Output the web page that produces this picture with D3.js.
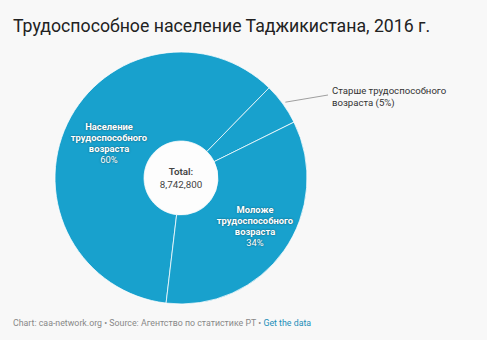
<!DOCTYPE html>
<html><head><meta charset="utf-8">
<script src="https://cdn.jsdelivr.net/npm/d3@7"></script>
<style>
html,body{margin:0;padding:0;background:#f8f8f8;}
svg{display:block;font-family:Roboto,"Noto Sans",sans-serif;}
</style></head><body>
<svg id="c" width="487" height="340"></svg>
<script>
const categories = ["Население трудоспособного возраста", "Старше трудоспособного возраста", "Моложе трудоспособного возраста"];
const values = [5282800, 470000, 2990000];
const totalLabel = "8,742,800";
const title = "Трудоспособное население Таджикистана, 2016 г.";

const svg = d3.select("#c");
const W = 487, H = 340;
svg.append("rect").attr("width", W).attr("height", H).attr("fill", "#f8f8f8");

svg.append("text").attr("x", 13).attr("y", 32).attr("font-size", 17.7).attr("fill", "#222").text(title);

const cx = 181, cy = 178, R = 126, r0 = 37;
const start = 186.8 * Math.PI / 180;
const pie = d3.pie().sort(null).value(d => d).startAngle(start).endAngle(start + 2 * Math.PI);
const arcs = pie(values);
const arc = d3.arc().innerRadius(r0).outerRadius(R);
const g = svg.append("g").attr("transform", `translate(${cx},${cy})`);
g.selectAll("path").data(arcs).join("path")
  .attr("d", arc).attr("fill", "#18a1cd")
  .attr("stroke", "rgba(255,255,255,0.75)").attr("stroke-width", 1);
g.append("circle").attr("r", r0 - 0.5).attr("fill", "#fdfdfd");

const total = d3.sum(values);
const pct = v => Math.round(v / total * 100) + "%";

// center
g.append("text").attr("text-anchor", "middle").attr("y", -3).attr("font-size", 9.8).attr("font-weight", 600).attr("fill", "#444").text("Total:");
g.append("text").attr("text-anchor", "middle").attr("y", 9.5).attr("font-size", 9.8).attr("fill", "#444").text(totalLabel);

// inside labels
function insideLabel(i, x, y, lines) {
  const t = svg.append("text").attr("text-anchor", "middle").attr("font-size", 9.4)
    .attr("fill", "#fff").style("text-shadow", "0 0 2px rgba(0,0,0,0.5)");
  lines.forEach((ln, k) => {
    t.append("tspan").attr("x", x).attr("y", y + k * 11).attr("font-weight", k < lines.length - 1 ? 700 : 400).text(ln);
  });
}
insideLabel(0, 109, 130, ["Население", "трудоспособного", "возраста", pct(values[0])]);
insideLabel(2, 255, 213, ["Моложе", "трудоспособного", "возраста", pct(values[2])]);

// outside label with leader
const a1 = arcs[1];
const mid = (a1.startAngle + a1.endAngle) / 2;
const p0 = [cx + (R + 3) * Math.sin(mid), cy - (R + 3) * Math.cos(mid)];
svg.append("line").attr("x1", p0[0]).attr("y1", p0[1]).attr("x2", 328).attr("y2", 95)
  .attr("stroke", "#888").attr("stroke-width", 0.8);
const ot = svg.append("text").attr("font-size", 9.6).attr("fill", "#333");
ot.append("tspan").attr("x", 332).attr("y", 94).text("Старше трудоспособного");
ot.append("tspan").attr("x", 332).attr("y", 105.5).text("возраста (" + pct(values[1]) + ")");

// footer
const ft = svg.append("text").attr("x", 13).attr("y", 326).attr("font-size", 8.8).attr("fill", "#888");
ft.append("tspan").text("Chart: caa-network.org • Source: Агентство по статистике РТ • ");
ft.append("tspan").attr("fill", "#1d8fb8").text("Get the data");
</script></body></html>
